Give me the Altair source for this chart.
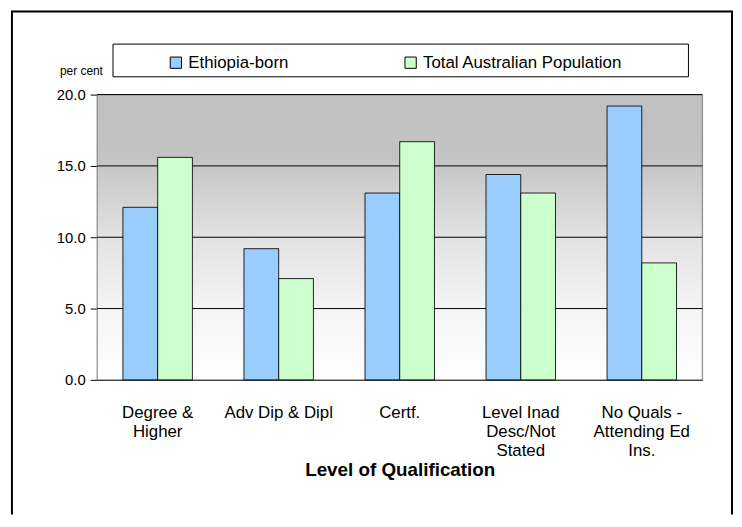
import altair as alt
import pandas as pd

categories = ["Degree & Higher", "Adv Dip & Dipl", "Certf.",
              "Level Inad Desc/Not Stated", "No Quals - Attending Ed Ins."]
tick_labels = [["Degree &", "Higher"], ["Adv Dip & Dipl"], ["Certf."],
               ["Level Inad", "Desc/Not", "Stated"],
               ["No Quals -", "Attending Ed", "Ins."]]
series = ["Ethiopia-born", "Total Australian Population"]
ethiopia = [12.1, 9.2, 13.1, 14.4, 19.2]
australia = [15.6, 7.1, 16.7, 13.1, 8.2]
y_ticks = [0, 5, 10, 15, 20]
grid_vals = [5, 10, 15, 20]
colors = ["#99CCFF", "#CCFFCC"]

rows = []
for c, e, a in zip(categories, ethiopia, australia):
    rows.append({"cat": c, "series": series[0], "value": e})
    rows.append({"cat": c, "series": series[1], "value": a})
df = pd.DataFrame(rows)

expr = ""
for c, lab in zip(categories, tick_labels):
    arr = "[" + ",".join("'" + s + "'" for s in lab) + "]"
    expr += f"datum.value == '{c}' ? {arr} : "
expr += "datum.value"

FONT = "Liberation Sans"
W, H = 611, 288

x_enc = alt.X("cat:N", sort=categories,
              scale=alt.Scale(domain=categories, paddingInner=0.426, paddingOuter=0.213),
              axis=alt.Axis(title="Level of Qualification", labelExpr=expr, labelAngle=0,
                            ticks=False, labelPadding=25, labelLineHeight=19,
                            labelFontSize=17, labelFont=FONT, labelColor="#000",
                            labelLimit=300, titleFont=FONT, titleFontSize=19,
                            titleFontWeight="bold", titleColor="#000", titlePadding=3,
                            domainColor="#000", domainWidth=1, grid=False))
y_scale = alt.Scale(domain=[0, 20], nice=False, zero=True)

dummy = pd.DataFrame({"a": [0]})

bg = alt.Chart(dummy).mark_rect(
    fill=alt.Gradient(gradient="linear", x1=0, x2=0, y1=0, y2=1,
                      stops=[alt.GradientStop(offset=0, color="#C0C0C0"),
                             alt.GradientStop(offset=0.22, color="#C3C3C3"),
                             alt.GradientStop(offset=0.5, color="#E2E2E2"),
                             alt.GradientStop(offset=0.75, color="#F4F4F4"),
                             alt.GradientStop(offset=1, color="#FFFFFF")]),
    stroke="#808080", strokeWidth=1
).encode(x=alt.value(0), x2=alt.value(W), y=alt.value(0), y2=alt.value(H))

grid = alt.Chart(pd.DataFrame({"g": grid_vals})).mark_rule(color="#000", strokeWidth=1).encode(
    y=alt.Y("g:Q", scale=y_scale), x=alt.value(0), x2=alt.value(W))

bars = alt.Chart(df).mark_bar(stroke="#000", strokeWidth=1, strokeOpacity=0.85).encode(
    x=x_enc,
    xOffset=alt.XOffset("series:N", sort=series, scale=alt.Scale(domain=series, paddingInner=0, paddingOuter=0)),
    y=alt.Y("value:Q", scale=y_scale,
            axis=alt.Axis(title="per cent", values=y_ticks, format=".1f", grid=False,
                          titleAngle=0, titleX=-38, titleY=-20, titleAlign="left",
                          titleBaseline="alphabetic", titleFont=FONT, titleFontSize=12,
                          titleFontWeight="normal", titleColor="#000",
                          labelFont=FONT, labelFontSize=15, labelColor="#000",
                          labelPadding=5, tickSize=7, tickColor="#000",
                          domainColor="#000")),
    color=alt.Color("series:N", sort=series,
                    scale=alt.Scale(domain=series, range=colors),
                    legend=alt.Legend(title=None, orient="none", direction="horizontal",
                                      legendX=71, legendY=-41, padding=0,
                                      symbolType="square", symbolSize=130,
                                      symbolStrokeColor="#000", symbolStrokeWidth=1,
                                      symbolOpacity=1,
                                      labelFont=FONT, labelFontSize=17, labelColor="#000",
                                      labelOffset=4, columnPadding=114, labelLimit=400))
)

legend_box = alt.Chart(dummy).mark_rect(fill="white", stroke="#000", strokeWidth=1).encode(
    x=alt.value(16), x2=alt.value(597), y=alt.value(-51), y2=alt.value(-18))

left_border = alt.Chart(dummy).mark_rule(color="#000", strokeWidth=2).encode(
    x=alt.value(-86), y=alt.value(-84), y2=alt.value(424))
top_border = alt.Chart(dummy).mark_rule(color="#000", strokeWidth=2).encode(
    x=alt.value(-87), x2=alt.value(642), y=alt.value(-84))
right_border = alt.Chart(dummy).mark_rule(color="#000", strokeWidth=2).encode(
    x=alt.value(641), y=alt.value(-84), y2=alt.value(424))

chart = alt.layer(bg, grid, legend_box, bars, left_border, top_border, right_border).properties(
    width=W, height=H, padding={"left": 2, "top": 0, "right": 0, "bottom": 0}
).configure_view(stroke=None).configure(background="white")

chart.save("out.html", embed_options={"renderer": "svg", "actions": False})
